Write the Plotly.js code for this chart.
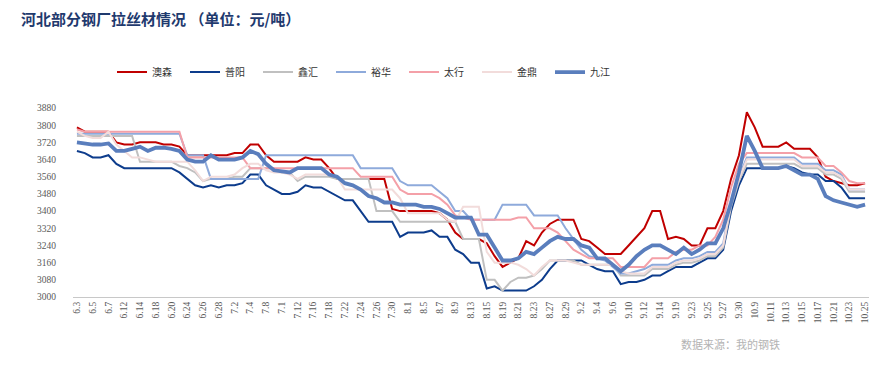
<!DOCTYPE html>
<html>
<head>
<meta charset="utf-8">
<script src="https://cdn.plot.ly/plotly-3.0.1.min.js"></script>
<style>html,body{margin:0;padding:0;background:#fff;}#chart{width:895px;height:368px;}</style>
</head>
<body>
<div id="chart"></div>
<script>
// categories (trading days)
const dates = ["6.3","6.4","6.5","6.6","6.7","6.11","6.12","6.13","6.14","6.17","6.18","6.19","6.20","6.21","6.24","6.25","6.26","6.27","6.28","7.1",
"7.2","7.3","7.4","7.5","7.8","7.9","7.10","7.11","7.12","7.15","7.16","7.17","7.18","7.19","7.22","7.23","7.24","7.25","7.26","7.29",
"7.30","7.31","8.1","8.2","8.5","8.6","8.7","8.8","8.9","8.12","8.13","8.14","8.15","8.16","8.19","8.20","8.21","8.22","8.23","8.26",
"8.27","8.28","8.29","8.30","9.2","9.3","9.4","9.5","9.6","9.9","9.10","9.11","9.12","9.13","9.14","9.18","9.19","9.20","9.23","9.24",
"9.25","9.26","9.27","9.29","9.30","10.8","10.9","10.10","10.11","10.12","10.13","10.14","10.15","10.16","10.17","10.18","10.21","10.22","10.23","10.24","10.25"];
// tick labels shown (every other category)
const tickDates = ["6.3","6.5","6.7","6.12","6.14","6.18","6.20","6.24","6.26","6.28","7.2","7.4","7.8","7.10","7.12","7.16","7.18","7.22","7.24","7.26","7.30",
"8.1","8.5","8.7","8.9","8.13","8.15","8.19","8.21","8.23","8.27","8.29","9.2","9.4","9.6","9.10","9.12","9.14","9.19","9.23","9.25","9.27","9.30",
"10.9","10.11","10.13","10.15","10.17","10.21","10.23","10.25"];
const tickLabels = ["6.3","6.5","6.7","6.12","6.14","6.18","6.20","6.24","6.26","6.28","7.2","7.4","7.8","7.1","7.12","7.16","7.18","7.22","7.24","7.26","7.30",
"8.1","8.5","8.7","8.9","8.13","8.15","8.19","8.21","8.23","8.27","8.29","9.2","9.4","9.6","9.10","9.12","9.14","9.19","9.23","9.25","9.27","9.30",
"10.9","10.11","10.13","10.15","10.17","10.21","10.23","10.25"];

const aosen = [3790,3770,3770,3770,3770,3720,3710,3710,3720,3720,3720,3710,3710,3700,3660,3660,3660,3660,3660,3660,
3670,3670,3710,3710,3660,3630,3630,3630,3630,3650,3640,3640,3600,3550,3550,3550,3550,3550,3550,3550,
3410,3400,3400,3400,3400,3400,3390,3360,3300,3270,3270,3270,3250,3190,3140,3160,3180,3260,3240,3300,
3340,3360,3360,3360,3270,3260,3230,3200,3200,3200,3240,3280,3320,3400,3400,3270,3280,3270,3240,3240,
3320,3320,3400,3550,3660,3860,3790,3700,3700,3700,3720,3690,3690,3690,3650,3560,3540,3530,3520,3520,3530];
const puyang = [3680,3670,3650,3650,3660,3620,3600,3600,3600,3600,3600,3600,3600,3580,3550,3520,3510,3520,3510,3520,
3520,3530,3570,3570,3520,3500,3480,3480,3490,3520,3510,3510,3490,3470,3450,3450,3400,3350,3350,3350,
3350,3280,3300,3300,3300,3310,3280,3280,3220,3200,3160,3160,3040,3050,3030,3030,3030,3030,3050,3080,
3130,3170,3170,3170,3170,3150,3130,3120,3120,3060,3070,3070,3080,3100,3100,3120,3140,3140,3140,3160,
3180,3180,3220,3400,3520,3600,3600,3600,3600,3600,3610,3600,3580,3570,3570,3540,3540,3510,3460,3460,3460];
const xinhui = [3750,3750,3750,3750,3750,3750,3750,3750,3630,3630,3630,3630,3630,3610,3600,3580,3540,3550,3550,3550,
3560,3560,3600,3600,3600,3600,3580,3580,3540,3560,3560,3560,3560,3550,3550,3550,3550,3550,3400,3400,
3400,3350,3350,3350,3350,3350,3350,3350,3350,3270,3270,3270,3080,3080,3030,3070,3090,3090,3100,3130,
3170,3170,3170,3170,3150,3150,3150,3150,3150,3100,3100,3100,3100,3130,3130,3130,3150,3160,3160,3170,
3190,3190,3230,3420,3540,3620,3620,3620,3620,3620,3620,3620,3600,3600,3600,3570,3570,3550,3490,3490,3490];
const yuhua = [3760,3760,3760,3760,3760,3760,3760,3760,3760,3760,3760,3760,3760,3760,3660,3660,3660,3550,3550,3550,
3550,3550,3550,3550,3660,3660,3660,3660,3660,3660,3660,3660,3660,3660,3660,3660,3600,3600,3600,3600,
3600,3540,3520,3520,3520,3520,3490,3460,3400,3400,3360,3360,3360,3360,3430,3430,3430,3430,3380,3380,
3380,3380,3320,3270,3220,3190,3180,3170,3140,3110,3110,3120,3130,3150,3150,3150,3170,3180,3180,3190,
3210,3210,3250,3450,3560,3650,3650,3650,3650,3650,3650,3650,3620,3620,3620,3590,3590,3570,3500,3500,3500];
const taihang = [3780,3770,3770,3770,3770,3770,3770,3770,3770,3770,3770,3770,3770,3770,3650,3650,3650,3650,3650,3650,
3650,3650,3600,3600,3600,3600,3600,3600,3600,3600,3600,3600,3600,3600,3600,3600,3560,3560,3560,3560,
3560,3500,3480,3480,3480,3480,3460,3430,3380,3370,3360,3360,3360,3360,3360,3360,3370,3370,3320,3320,
3320,3300,3260,3220,3200,3180,3180,3180,3180,3140,3140,3140,3140,3180,3180,3180,3210,3220,3220,3240,
3240,3280,3360,3510,3620,3670,3670,3670,3670,3670,3670,3670,3650,3650,3650,3610,3610,3580,3540,3530,3530];
const jinding = [3770,3750,3740,3740,3770,3710,3680,3650,3650,3640,3630,3630,3630,3630,3630,3590,3540,3560,3560,3560,
3570,3600,3620,3620,3590,3580,3580,3570,3550,3570,3570,3570,3570,3560,3500,3500,3500,3500,3500,3500,
3500,3460,3390,3390,3390,3390,3390,3360,3350,3420,3420,3420,3210,3160,3160,3160,3150,3130,3100,3140,
3170,3170,3170,3160,3150,3150,3150,3150,3150,3120,3110,3110,3110,3140,3140,3140,3160,3170,3170,3180,
3200,3200,3240,3440,3550,3640,3640,3640,3640,3640,3640,3640,3610,3610,3610,3580,3580,3560,3500,3500,3500];
const jiujiang = [3720,3715,3710,3710,3715,3680,3680,3690,3700,3680,3695,3695,3690,3680,3640,3630,3630,3660,3640,3640,
3640,3650,3680,3665,3620,3590,3585,3580,3600,3600,3600,3600,3570,3560,3530,3520,3500,3470,3460,3440,
3440,3430,3430,3430,3420,3420,3410,3390,3370,3370,3370,3290,3290,3230,3170,3170,3180,3210,3200,3230,
3260,3280,3270,3270,3240,3230,3180,3180,3150,3120,3150,3190,3220,3240,3240,3220,3200,3230,3200,3220,
3250,3250,3320,3440,3580,3750,3680,3600,3600,3600,3610,3590,3570,3570,3550,3470,3450,3440,3430,3420,3430];

const names = ["澳森","普阳","鑫汇","裕华","太行","金鼎","九江"];
const colors = ["#c00000","#0d3c8c","#c0c0c0","#8eaadb","#f4a0a8","#f2dcdb","#5a7ebd"];
const widths = [2,2,2,2,2,2,3.8];
const series = [aosen,puyang,xinhui,yuhua,taihang,jinding,jiujiang];

const traces = series.map((s,k)=>({
  type:"scatter", mode:"lines", x:dates, y:s, name:names[k],
  line:{color:colors[k], width:widths[k]}, hoverinfo:"skip"
}));

const boundaryTicks = [];
for(let v=-0.5; v<=100.5; v+=2) boundaryTicks.push(v);
const yTicks = [];
for(let v=3000; v<=3880; v+=80) yTicks.push(v);

const layout = {
  width:895, height:368,
  paper_bgcolor:"#ffffff", plot_bgcolor:"#ffffff",
  margin:{l:73, r:26, t:108, b:71},
  showlegend:true,
  legend:{orientation:"h", x:0.049, xanchor:"left", y:1.19, yanchor:"middle",
    font:{family:"Noto Sans CJK SC", size:10, color:"#333333"},
    entrywidth:28, entrywidthmode:"pixels", itemwidth:30, tracegroupgap:0, bgcolor:"rgba(0,0,0,0)"},
  title:{text:"河北部分钢厂拉丝材情况 （单位：元/吨）", x:21/895, xanchor:"left", xref:"container",
    y:1-20/368, yanchor:"middle", yref:"container",
    font:{family:"Noto Sans CJK SC", size:15, color:"#1f3a6e", weight:"bold"}},
  xaxis:{type:"category", range:[-0.5,100.5], tickmode:"array", tickvals:tickDates, ticktext:tickLabels,
    tickangle:-90, ticks:"", showgrid:false, zeroline:false, showline:true, linecolor:"#c8c8c8", linewidth:1,
    tickfont:{family:"Liberation Serif", size:9.5, color:"#595959"}, fixedrange:true},
  xaxis2:{overlaying:"x", type:"linear", range:[-0.5,100.5], tickmode:"array", tickvals:boundaryTicks,
    showticklabels:false, ticks:"outside", ticklen:5, tickcolor:"#c8c8c8", tickwidth:1, showgrid:false,
    zeroline:false, showline:false, side:"bottom", anchor:"y"},
  yaxis:{range:[3000,3880], tickmode:"array", tickvals:yTicks, ticks:"", showgrid:false, zeroline:false,
    showline:false, tickfont:{family:"Liberation Serif", size:9.5, color:"#595959"}, ticklabelstandoff:16, fixedrange:true},
  annotations:[{text:"数据来源：我的钢铁", xref:"paper", yref:"paper", x:(730-73)/796, y:-(344-297)/189,
    xanchor:"center", yanchor:"middle", showarrow:false,
    font:{family:"Noto Sans CJK SC", size:11, color:"#b3b3b3"}}]
};

Plotly.newPlot("chart", traces, layout, {staticPlot:true, displayModeBar:false});
</script>
</body>
</html>
